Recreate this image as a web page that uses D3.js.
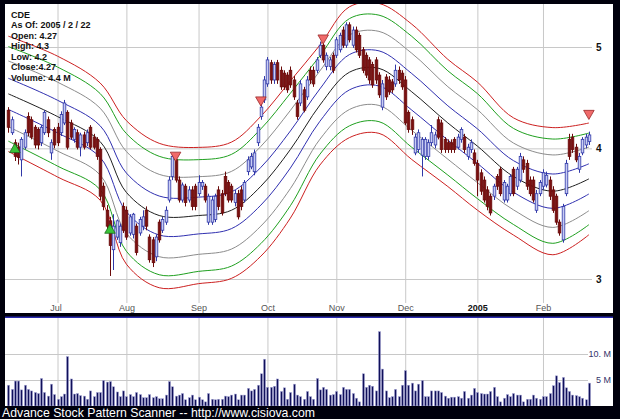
<!DOCTYPE html>
<html><head><meta charset="utf-8">
<script src="https://cdn.jsdelivr.net/npm/d3@7"></script>
<style>
html,body{margin:0;padding:0;background:#00000c;}
svg{display:block;}
text{font-family:"Liberation Sans",Arial,sans-serif;}
</style></head>
<body>
<svg id="c" width="620" height="419"></svg>
<script>
// ---------------- DATA ----------------
const legendLines = ["CDE","As Of: 2005 / 2 / 22","Open: 4.27","High: 4.3","Low: 4.2","Close:4.27","Volume: 4.4 M"];
const monthIdx = [15,36,58,79,100,121,143,163];
const monthLabels = ["Jul","Aug","Sep","Oct","Nov","Dec","2005","Feb"];
const priceTicks = [3,4,5];
const volTicks = [5,10];
const volTickLabels = ["5 M","10. M"];
const footer = "Advance Stock Pattern Scanner -- http://www.cisiova.com";

const opens = [4.35,4.14,4.05,4.01,3.90,4.01,4.29,4.26,4.19,4.17,4.05,4.14,4.26,3.96,4.17,4.19,4.14,4.23,4.33,4.23,
4.08,4.14,4.01,4.12,4.05,4.19,4.10,4.08,3.99,3.68,3.49,3.41,3.20,3.29,3.25,3.52,3.49,3.32,3.31,3.37,
3.32,3.37,3.49,3.29,3.27,3.15,3.40,3.34,3.40,3.57,3.76,3.90,3.73,3.57,3.68,3.57,3.65,3.68,3.62,3.68,
3.68,3.40,3.40,3.42,3.65,3.62,3.76,3.71,3.68,3.55,3.62,3.65,3.57,3.80,3.84,3.80,4.05,4.29,4.45,4.61,
4.83,4.65,4.83,4.75,4.72,4.70,4.75,4.65,4.42,4.42,4.55,4.48,4.75,4.75,4.75,4.91,5.02,4.79,4.79,4.91,
4.91,4.97,5.19,5.02,5.25,5.02,5.19,5.13,4.97,4.91,4.86,4.81,4.86,4.70,4.38,4.68,4.65,4.63,4.61,4.75,
4.72,4.65,4.33,4.26,3.96,3.99,3.94,3.93,3.93,4.05,4.03,4.26,4.23,4.08,4.05,4.05,4.08,4.01,4.08,4.10,
3.93,3.99,3.96,3.87,3.79,3.73,3.65,3.60,3.60,3.76,3.82,3.57,3.57,3.62,3.82,3.68,3.73,3.90,3.87,3.73,
3.73,3.49,3.62,3.68,3.69,3.73,3.65,3.60,3.40,3.27,3.62,4.08,4.10,4.01,3.82,3.96,4.03,4.06];
const highs = [4.38,4.29,4.08,4.05,4.10,4.17,4.33,4.29,4.21,4.19,4.21,4.35,4.29,4.08,4.19,4.23,4.34,4.45,4.35,4.26,
4.19,4.17,4.14,4.15,4.17,4.21,4.13,4.10,4.01,3.71,3.53,3.44,3.46,3.42,3.39,3.55,3.52,3.46,3.47,3.39,
3.44,3.49,3.52,3.31,3.29,3.31,3.42,3.44,3.52,3.76,3.96,3.93,3.76,3.71,3.70,3.68,3.68,3.70,3.77,3.73,
3.70,3.62,3.60,3.62,3.68,3.65,3.80,3.73,3.70,3.65,3.65,3.68,3.73,3.93,3.96,3.99,4.22,4.42,4.69,4.89,
4.86,4.84,4.86,4.79,4.75,4.73,4.79,4.69,4.45,4.65,4.58,4.69,4.79,4.79,4.89,5.06,5.06,4.94,4.89,4.94,
5.11,5.16,5.23,5.28,5.28,5.23,5.23,5.16,5.00,4.94,4.89,4.84,4.89,4.73,4.65,4.71,4.69,4.66,4.81,4.79,
4.75,4.69,4.35,4.29,4.13,4.17,4.10,4.10,4.08,4.21,4.15,4.29,4.26,4.10,4.08,4.08,4.10,4.13,4.19,4.13,
4.04,4.08,3.99,3.90,3.82,3.76,3.68,3.62,3.70,3.78,3.84,3.73,3.70,3.78,3.84,3.84,3.96,3.93,3.90,3.76,
3.76,3.65,3.73,3.82,3.80,3.76,3.68,3.62,3.42,3.54,3.90,4.13,4.13,4.04,3.96,4.10,4.13,4.15];
const lows = [4.14,4.12,3.89,3.86,3.76,3.99,4.11,4.08,4.00,3.99,4.02,4.12,4.10,3.90,4.00,4.02,4.11,4.21,3.99,4.08,
4.05,3.99,3.93,3.99,4.02,3.99,3.99,3.90,3.57,3.49,3.33,3.02,3.06,3.27,3.22,3.32,3.27,3.30,3.28,3.16,
3.30,3.34,3.34,3.11,3.08,3.12,3.25,3.32,3.38,3.55,3.73,3.71,3.55,3.55,3.52,3.55,3.49,3.49,3.60,3.65,
3.55,3.38,3.38,3.40,3.49,3.45,3.60,3.55,3.55,3.52,3.42,3.49,3.55,3.77,3.82,3.77,4.02,4.26,4.42,4.58,
4.61,4.61,4.61,4.55,4.55,4.52,4.57,4.45,4.26,4.39,4.33,4.45,4.61,4.58,4.72,4.88,4.83,4.75,4.75,4.72,
4.88,4.94,4.99,4.99,5.05,4.99,4.94,4.88,4.72,4.67,4.61,4.57,4.61,4.47,4.35,4.45,4.50,4.52,4.58,4.61,
4.55,4.21,4.14,4.12,3.94,3.96,3.76,3.90,3.90,4.02,4.00,4.08,3.96,3.96,3.96,3.96,3.96,3.99,4.05,3.96,
3.90,3.96,3.85,3.60,3.61,3.55,3.49,3.45,3.57,3.65,3.60,3.55,3.55,3.60,3.60,3.65,3.71,3.79,3.65,3.60,
3.55,3.47,3.60,3.65,3.67,3.57,3.47,3.38,3.30,3.25,3.60,3.90,3.96,3.88,3.79,3.94,4.00,4.03];
const closes = [4.19,4.26,3.93,3.92,4.08,4.14,4.14,4.10,4.03,4.03,4.19,4.33,4.14,4.05,4.03,4.05,4.31,4.42,4.01,4.10,
4.17,4.01,4.12,4.01,4.14,4.01,4.01,3.93,3.60,3.52,3.37,3.23,3.37,3.41,3.37,3.34,3.29,3.44,3.46,3.18,
3.42,3.44,3.37,3.13,3.11,3.29,3.27,3.42,3.49,3.73,3.93,3.73,3.57,3.69,3.55,3.65,3.52,3.52,3.71,3.71,
3.57,3.60,3.57,3.60,3.52,3.47,3.62,3.57,3.57,3.62,3.44,3.52,3.71,3.90,3.93,3.96,4.19,4.38,4.65,4.86,
4.65,4.81,4.65,4.58,4.58,4.55,4.60,4.48,4.29,4.61,4.35,4.65,4.65,4.61,4.86,5.02,4.86,4.91,4.86,4.75,
5.08,5.13,5.02,5.25,5.08,5.19,4.97,4.91,4.75,4.70,4.65,4.60,4.65,4.50,4.61,4.48,4.53,4.55,4.75,4.65,
4.58,4.23,4.17,4.17,4.10,4.14,4.08,4.08,4.05,4.14,4.12,4.10,3.99,3.99,3.99,3.99,3.99,4.10,4.17,3.99,
4.01,4.05,3.87,3.73,3.64,3.57,3.52,3.47,3.68,3.68,3.62,3.71,3.68,3.76,3.62,3.82,3.93,3.82,3.68,3.62,
3.57,3.62,3.71,3.79,3.77,3.60,3.49,3.40,3.32,3.52,3.87,3.93,3.99,3.90,3.93,4.08,4.10,4.12];
const volumes = [4.0,3.2,4.8,4.8,3.1,4.0,3.2,2.9,2.6,2.4,5.3,2.6,1.9,4.2,2.2,1.3,1.8,2.3,9.5,5.2,
2.3,2.4,2.0,1.9,1.3,2.9,1.8,2.6,2.6,4.9,4.6,4.7,3.7,2.7,1.8,2.9,1.8,2.2,1.8,2.6,
2.2,1.6,1.6,2.2,1.6,1.8,1.4,1.4,2.1,4.7,3.7,1.9,2.1,2.4,1.2,1.6,2.1,1.2,1.7,1.2,
0.8,2.4,1.3,1.2,1.3,1.3,1.9,1.8,2.1,2.3,1.2,2.1,2.1,3.4,2.9,3.2,4.0,6.2,9.0,3.6,
3.6,3.8,5.2,2.8,3.5,1.3,2.6,4.2,2.1,1.8,1.3,2.8,1.8,1.3,5.3,3.1,3.6,3.2,2.1,2.2,
2.8,2.2,3.6,3.2,3.2,2.4,1.5,0.8,6.2,3.6,4.0,3.8,2.9,14.3,7.1,2.9,1.6,1.8,3.2,1.8,
4.0,6.8,4.0,4.4,2.9,4.2,4.9,1.8,1.8,2.9,2.9,2.9,2.6,1.9,1.5,1.7,1.7,1.8,1.5,2.8,
1.5,2.1,3.4,2.6,2.4,2.3,2.3,2.8,3.6,1.8,0.8,1.5,2.2,1.8,2.4,2.1,2.1,0.8,1.3,1.3,
2.1,1.5,1.3,1.8,1.8,2.4,3.9,5.8,4.5,5.5,3.5,2.8,2.1,2.0,1.8,1.5,1.2,4.4];

// envelope: centre line and outer half-width (%) sampled at trading-day indices
const bandIdx = [0,15,28,36,46,58,68,77,86,95,104,113,123,134,143,154,166,177];
const bandMid = [4.51,4.29,4.06,3.63,3.45,3.45,3.49,3.68,3.99,4.40,4.73,4.77,4.53,4.23,4.02,3.76,3.64,3.74];
const bandSpread = [12.7,13.3,12.9,15.8,15.9,15.0,15.0,15.4,15.1,13.2,14.4,14.3,14.9,14.0,14.1,12.9,14.0,12.3];
const bandLevels = [-1,-0.82,-0.57,-0.27,0,0.27,0.57,0.82,1];
const bandColors = ["#cc2020","#1fa01f","#8c8c8c","#3030b0","#202020","#3030b0","#8c8c8c","#1fa01f","#cc2020"];

const buyIdx = [2,31];
const buyPrice = [3.99,3.34];
const sellIdx = [51,77,96,177];
const sellPrice = [3.94,4.45,5.10,4.32];

// ---------------- DRAW ----------------
const svg = d3.select("#c");
const W = 620, H = 419;
const P = {l:5, t:4, r:613, b:313};
const V = {t:318, b:406};

svg.append("rect").attr("width",W).attr("height",H).attr("fill","#00000c");
svg.append("rect").attr("x",P.l).attr("y",P.t).attr("width",P.r-P.l).attr("height",P.b-P.t).attr("fill","#fff");
svg.append("rect").attr("x",P.l).attr("y",V.t-1.5).attr("width",P.r-P.l).attr("height",1.5).attr("fill","#2a2ab0");
svg.append("rect").attr("x",P.l).attr("y",V.t).attr("width",P.r-P.l).attr("height",V.b-V.t).attr("fill","#fff");

const n = opens.length;
const x = d3.scaleLinear().domain([0,n-1]).range([8.3,588.9]);
const y = d3.scaleLog().domain([3,5]).range([279,47]);
const yv = d3.scaleLinear().domain([0,10]).range([V.b,354]);

svg.append("clipPath").attr("id","pc").append("rect").attr("x",P.l).attr("y",P.t).attr("width",P.r-P.l).attr("height",P.b-P.t);
svg.append("clipPath").attr("id","vc").append("rect").attr("x",P.l).attr("y",V.t).attr("width",P.r-P.l).attr("height",V.b-V.t);

// grid - price panel
const gGrid = svg.append("g").attr("transform",`translate(592,0)`)
  .call(d3.axisLeft(y).tickValues(priceTicks).tickSize(587).tickFormat(""));
gGrid.select(".domain").remove();
gGrid.selectAll("line").attr("stroke","#c8c8c8");
const gV = svg.append("g").attr("transform",`translate(0,303)`)
  .call(d3.axisBottom(x).tickValues(monthIdx).tickSize(-(303-P.t)).tickFormat(""));
gV.select(".domain").remove();
gV.selectAll("line").attr("stroke","#c8c8c8");

// price labels
const gPL = svg.append("g").attr("transform","translate(593,0)")
  .call(d3.axisRight(y).tickValues(priceTicks).tickSize(0).tickPadding(3).tickFormat(d3.format("d")));
gPL.select(".domain").remove();
gPL.selectAll("text").attr("font-size",10).attr("font-weight","bold").attr("fill","#111").attr("font-family","Liberation Sans, Arial");

// month labels
const gML = svg.append("g").attr("transform","translate(0,304)")
  .call(d3.axisBottom(x).tickValues(monthIdx).tickSize(0).tickPadding(1).tickFormat((d,i)=>monthLabels[i]));
gML.select(".domain").remove();
gML.selectAll("text").attr("font-size",9).attr("font-family","Liberation Sans, Arial")
  .attr("font-weight",(d,i)=>monthLabels[i]==="2005"?"bold":"normal")
  .attr("fill",(d,i)=>monthLabels[i]==="2005"?"#111":"#555")
  .attr("dx",(d,i)=>i===0?-2:0);

// envelope lines
const plot = svg.append("g").attr("clip-path","url(#pc)");
bandLevels.forEach((lv,k)=>{
  const pts = bandIdx.map((bi,j)=>[bi, bandMid[j]*Math.exp(lv*bandSpread[j]/100)]);
  plot.append("path").datum(pts)
    .attr("fill","none").attr("stroke",bandColors[k]).attr("stroke-width",1)
    .attr("d", d3.line().x(d=>x(d[0])).y(d=>y(d[1])).curve(d3.curveCatmullRom.alpha(0.5)));
});

// candles
const cw = 2.6;
const idx = d3.range(n);
plot.selectAll(".wick").data(idx).join("line")
  .attr("x1",i=>Math.round(x(i))+0.5).attr("x2",i=>Math.round(x(i))+0.5)
  .attr("y1",i=>y(highs[i])).attr("y2",i=>y(lows[i]))
  .attr("stroke",i=>closes[i]>=opens[i]?"#3038a8":"#6a0a0a").attr("stroke-width",1);
plot.selectAll(".body").data(idx).join("rect")
  .attr("x",i=>Math.round(x(i))+0.5-cw/2)
  .attr("y",i=>y(Math.max(opens[i],closes[i])))
  .attr("width",cw)
  .attr("height",i=>Math.max(1,Math.abs(y(opens[i])-y(closes[i]))))
  .attr("fill",i=>closes[i]>=opens[i]?"#c8ccf4":"#7a1010")
  .attr("stroke",i=>closes[i]>=opens[i]?"#3038a8":"#6a0a0a").attr("stroke-width",0.8);

// signals
const tri = d3.symbol().type(d3.symbolTriangle).size(48);
plot.selectAll(".buy").data(buyIdx).join("path")
  .attr("d",tri).attr("transform",(d,j)=>`translate(${x(d)},${y(buyPrice[j])})`)
  .attr("fill","#39c439").attr("stroke","#1c6a1c").attr("stroke-width",0.8);
plot.selectAll(".sell").data(sellIdx).join("path")
  .attr("d",tri).attr("transform",(d,j)=>`translate(${x(d)},${y(sellPrice[j])}) rotate(180)`)
  .attr("fill","#f06a6a").attr("stroke","#9a2a2a").attr("stroke-width",0.8);

// legend text
const gl = svg.append("g");
legendLines.forEach((t,i)=>{
  gl.append("text").attr("x",11).attr("y",17.5+i*10.5).text(t)
    .attr("font-size",9).attr("font-weight","bold").attr("fill","#111");
});

// volume grid
const gVG = svg.append("g").attr("transform","translate(588,0)")
  .call(d3.axisLeft(yv).tickValues(volTicks).tickSize(583).tickFormat(""));
gVG.select(".domain").remove();
gVG.selectAll("line").attr("stroke","#c8c8c8");
const gVV = svg.append("g").attr("transform",`translate(0,${V.b})`)
  .call(d3.axisBottom(x).tickValues(monthIdx).tickSize(-(V.b-V.t)).tickFormat(""));
gVV.select(".domain").remove();
gVV.selectAll("line").attr("stroke","#c8c8c8");

const gVL = svg.append("g").attr("transform","translate(611,0)")
  .call(d3.axisLeft(yv).tickValues(volTicks).tickSize(0).tickPadding(0).tickFormat((d,i)=>volTickLabels[i]));
gVL.select(".domain").remove();
gVL.selectAll("text").attr("font-size",9).attr("fill","#33336a").attr("font-family","Liberation Sans, Arial");

// volume bars
const vplot = svg.append("g").attr("clip-path","url(#vc)");
vplot.selectAll(".vb").data(idx).join("rect")
  .attr("x",i=>Math.round(x(i))-0.5).attr("width",2)
  .attr("y",i=>yv(volumes[i])).attr("height",i=>V.b-yv(volumes[i]))
  .attr("fill","#10105a").attr("stroke","#a8a8d8").attr("stroke-width",0.5);

// footer
svg.append("text").attr("x",2).attr("y",416.5).text(footer)
  .attr("font-size",12.6).attr("textLength",313).attr("lengthAdjust","spacingAndGlyphs").attr("fill","#fff");
</script>
</body></html>
